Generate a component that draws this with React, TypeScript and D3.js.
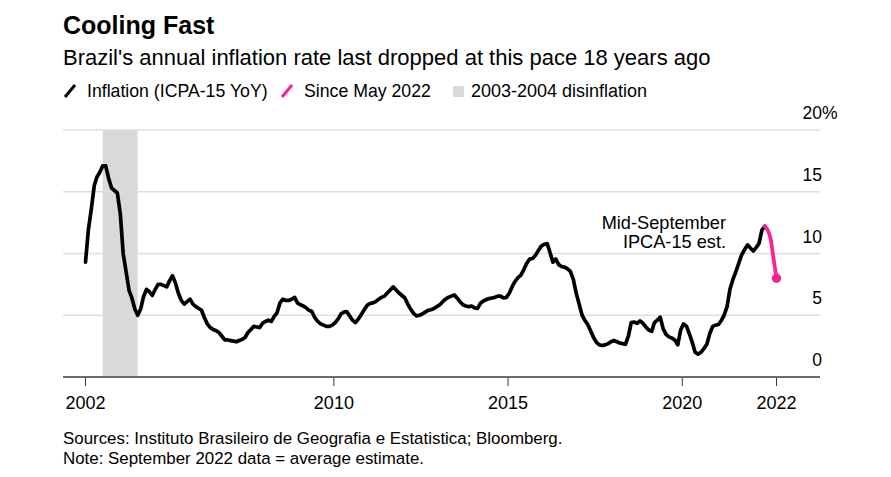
import React from "react";
import * as d3 from "d3";

// ---- data (monthly IPCA-15 YoY %, Nov 2002 .. Sep 2022) ----
const firstMonth = "2002-11-15";
const y2002 = [9.3, 11.9];
const y2003 = [13.6, 15.5, 16.2, 16.6, 17.1, 17.1, 16.1, 15.3, 15.1, 14.9, 13.2, 10.0];
const y2004 = [8.5, 7.0, 6.4, 5.5, 5.0, 5.5, 6.5, 7.1, 6.9, 6.6, 7.1, 7.5];
const y2005 = [7.5, 7.4, 7.3, 7.8, 8.2, 7.6, 6.8, 6.2, 5.9, 6.1, 6.3, 5.9];
const y2006 = [5.7, 5.55, 5.4, 4.8, 4.3, 4.0, 3.85, 3.75, 3.6, 3.3, 3.0, 3.0];
const y2007 = [2.95, 2.9, 2.85, 2.95, 3.05, 3.2, 3.6, 3.85, 4.1, 4.05, 4.0, 4.35];
const y2008 = [4.5, 4.6, 4.5, 4.9, 5.2, 6.0, 6.3, 6.2, 6.2, 6.3, 6.45, 6.0];
const y2009 = [5.85, 5.75, 5.6, 5.4, 5.3, 4.8, 4.5, 4.3, 4.2, 4.1, 4.1, 4.2];
const y2010 = [4.4, 4.7, 5.1, 5.25, 5.3, 4.95, 4.6, 4.4, 4.7, 5.05, 5.45, 5.8];
const y2011 = [5.95, 6.0, 6.1, 6.3, 6.45, 6.55, 6.8, 7.05, 7.3, 7.05, 6.8, 6.6];
const y2012 = [6.4, 5.9, 5.5, 5.15, 4.95, 5.0, 5.1, 5.25, 5.4, 5.45, 5.55, 5.7];
const y2013 = [5.85, 6.1, 6.3, 6.45, 6.55, 6.65, 6.4, 6.1, 5.85, 5.75, 5.7, 5.75];
const y2014 = [5.6, 5.55, 5.95, 6.15, 6.25, 6.35, 6.4, 6.45, 6.55, 6.55, 6.4, 6.45];
const y2015 = [6.8, 7.35, 7.75, 8.05, 8.25, 8.7, 9.2, 9.55, 9.6, 9.85, 10.25, 10.6];
const y2016 = [10.75, 10.8, 10.1, 9.3, 9.55, 9.1, 8.95, 8.9, 8.75, 8.55, 7.9, 6.8];
const y2017 = [5.9, 5.0, 4.6, 4.25, 3.75, 3.2, 2.8, 2.6, 2.55, 2.6, 2.7, 2.85];
const y2018 = [2.95, 2.85, 2.75, 2.7, 2.65, 3.3, 4.4, 4.45, 4.35, 4.55, 4.35, 4.05];
const y2019 = [3.8, 3.7, 4.4, 4.6, 4.85, 3.9, 3.45, 3.25, 3.15, 3.0, 2.6, 3.8];
const y2020 = [4.3, 4.1, 3.5, 2.8, 2.0, 1.85, 2.0, 2.3, 2.65, 3.5, 4.1, 4.2];
const y2021 = [4.25, 4.6, 5.0, 5.7, 7.1, 7.9, 8.5, 9.2, 9.9, 10.3, 10.7, 10.45];
const y2022 = [10.2, 10.5, 10.8, 11.9, 12.2, 11.9, 11.2, 9.6, 8.0];
const inflationYoY = [
  ...y2002, ...y2003, ...y2004, ...y2005, ...y2006, ...y2007, ...y2008,
  ...y2009, ...y2010, ...y2011, ...y2012, ...y2013, ...y2014, ...y2015,
  ...y2016, ...y2017, ...y2018, ...y2019, ...y2020, ...y2021, ...y2022,
];
const pinkStartMonth = "2022-05-15";
const shadeRange = ["2003-05-15", "2004-05-15"];

const xTickDates = ["2002-11-15", "2010-01-01", "2015-01-01", "2020-01-01", "2022-09-15"];
const xTickLabels = ["2002", "2010", "2015", "2020", "2022"];
const yTicks = [0, 5, 10, 15, 20];

const title = "Cooling Fast";
const subtitle = "Brazil's annual inflation rate last dropped at this pace 18 years ago";
const legendLabels = ["Inflation (ICPA-15 YoY)", "Since May 2022", "2003-2004 disinflation"];
const annotationLines = ["Mid-September", "IPCA-15 est."];
const footLines = [
  "Sources: Instituto Brasileiro de Geografia e Estatistica; Bloomberg.",
  "Note: September 2022 data = average estimate.",
];

const PINK = "#ff1f8f";
const FONT = "'Liberation Sans', Arial, Helvetica, sans-serif";

export default function App() {
  const W = 891, H = 477;
  const parse = (s: string) => new Date(s + "T00:00:00");
  const start = parse(firstMonth);
  const points = inflationYoY.map((v, i) => ({ date: d3.timeMonth.offset(start, i), value: v }));
  const lastDate = points[points.length - 1].date;

  const x = d3.scaleTime().domain([start, lastDate]).range([85.5, 776.5]);
  const y = d3.scaleLinear().domain([0, 20]).range([377, 130]);
  const gridX0 = 63, gridX1 = 820;

  const pinkStart = parse(pinkStartMonth);
  const black = points.filter((p) => p.date <= pinkStart);
  const pink = points.filter((p) => p.date >= pinkStart);

  const line = d3
    .line<{ date: Date; value: number }>()
    .x((d) => x(d.date))
    .y((d) => y(d.value));
  const pinkLine = d3
    .line<{ date: Date; value: number }>()
    .x((d) => x(d.date))
    .y((d) => y(d.value))
    .curve(d3.curveMonotoneX);

  const s0 = x(parse(shadeRange[0]));
  const s1 = x(parse(shadeRange[1]));
  const last = pink[pink.length - 1];

  return (
    <svg
      width={W}
      height={H}
      style={{ position: "absolute", left: 0, top: 0, background: "#fff" }}
      fontFamily={FONT}
    >
      <text x={63} y={34} fontSize={25} fontWeight="bold" fill="#000">{title}</text>
      <text x={63} y={65} fontSize={22} fill="#000">{subtitle}</text>

      {/* legend */}
      <line x1={65} y1={97} x2={75} y2={85} stroke="#000" strokeWidth={3} />
      <text x={87} y={97} fontSize={17.7} fill="#000">{legendLabels[0]}</text>
      <line x1={282} y1={97} x2={292} y2={85} stroke={PINK} strokeWidth={3} />
      <text x={304} y={97} fontSize={17.7} fill="#000">{legendLabels[1]}</text>
      <rect x={453} y={86} width={11} height={11} fill="#d9d9d9" />
      <text x={471} y={97} fontSize={18} fill="#000">{legendLabels[2]}</text>

      {/* shading */}
      <rect x={s0} y={y(20)} width={s1 - s0} height={y(0) - y(20)} fill="#d9d9d9" />

      {/* gridlines */}
      {yTicks.filter((t) => t > 0).map((t) => (
        <line key={t} x1={gridX0} x2={gridX1} y1={y(t)} y2={y(t)} stroke="#dedede" strokeWidth={1.3} />
      ))}
      {yTicks.map((t) => (
        <g key={"yl" + t}>
          <text x={822} y={y(t) - 11} fontSize={17.5} textAnchor="end" fill="#000">{t}</text>
          {t === 20 && <text x={822} y={y(t) - 11} fontSize={17.5} fill="#000">%</text>}
        </g>
      ))}

      {/* baseline & ticks */}
      <line x1={gridX0} x2={gridX1} y1={y(0)} y2={y(0)} stroke="#6b6b6b" strokeWidth={2} />
      {xTickDates.map((d, i) => {
        const px = x(parse(d));
        return (
          <g key={d}>
            <line x1={px} x2={px} y1={y(0) + 1} y2={y(0) + 9} stroke="#333" strokeWidth={1} />
            <text x={px} y={408.5} fontSize={18} textAnchor="middle" fill="#000">{xTickLabels[i]}</text>
          </g>
        );
      })}

      {/* lines */}
      <path d={line(black) || ""} fill="none" stroke="#000" strokeWidth={3.7} strokeLinejoin="round" strokeLinecap="round" />
      <path d={pinkLine(pink) || ""} fill="none" stroke={PINK} strokeWidth={3.7} strokeLinejoin="round" strokeLinecap="round" />
      <circle cx={x(last.date)} cy={y(last.value)} r={4.7} fill={PINK} />

      {/* annotation */}
      <text x={726} y={228.5} fontSize={18.2} textAnchor="end" fill="#000">{annotationLines[0]}</text>
      <text x={726} y={248} fontSize={18.2} textAnchor="end" fill="#000">{annotationLines[1]}</text>

      {/* footer */}
      <text x={63} y={444} fontSize={16.9} fill="#000">{footLines[0]}</text>
      <text x={63} y={464} fontSize={16.9} fill="#000">{footLines[1]}</text>
    </svg>
  );
}
